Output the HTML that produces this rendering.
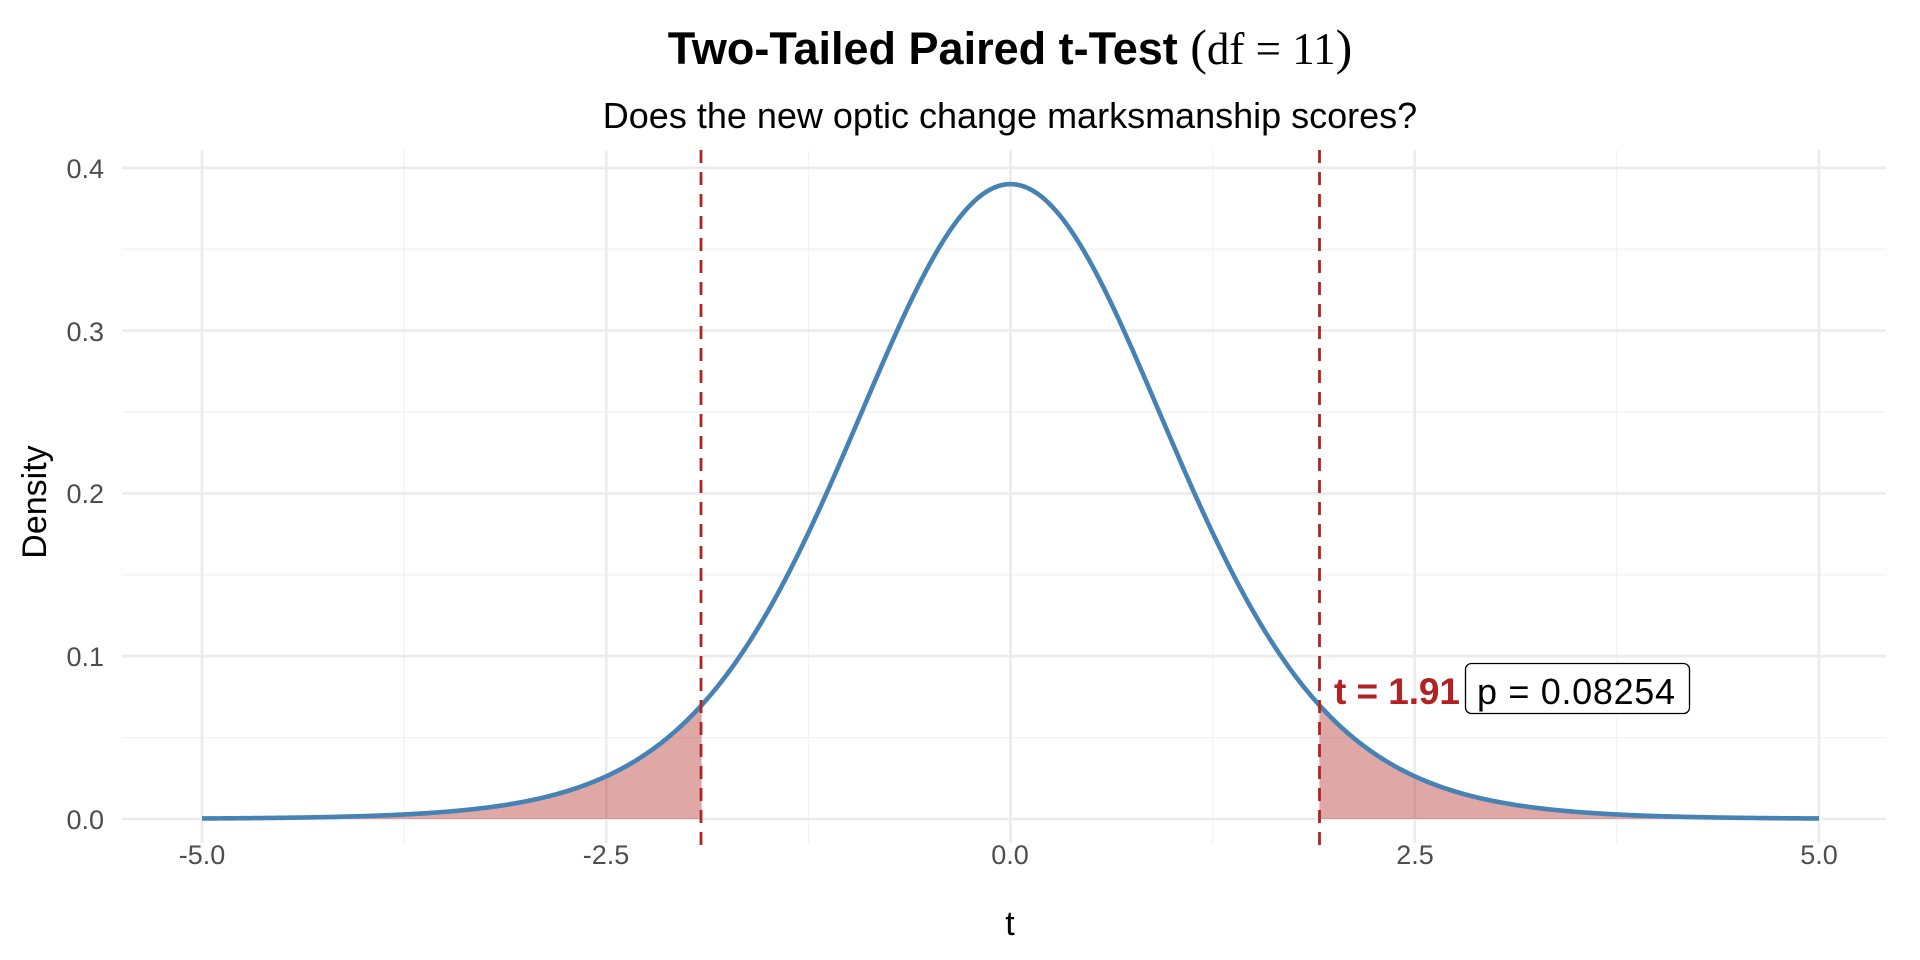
<!DOCTYPE html>
<html><head><meta charset="utf-8"><style>
html,body{margin:0;padding:0;background:#fff;}
svg{display:block;}
text{font-family:"Liberation Sans",sans-serif;}
</style></head><body>
<svg id="s" width="1920" height="960" xmlns="http://www.w3.org/2000/svg">
<rect width="1920" height="960" fill="#fff"/>
<g id="grid"></g>
<path id="fillL" fill="#b22222" fill-opacity="0.4"/>
<path id="fillR" fill="#b22222" fill-opacity="0.4"/>
<path id="curve" fill="none" stroke="#4682b4" stroke-width="4.6" stroke-linejoin="round"/>
<line x1="701" x2="701" y1="150" y2="846" stroke="#b22222" stroke-width="2.8" stroke-dasharray="13,9"/>
<line x1="1319.5" x2="1319.5" y1="150" y2="846" stroke="#b22222" stroke-width="2.8" stroke-dasharray="13,9"/>
<text x="1334" y="704" font-size="37" font-weight="bold" fill="#b22222" textLength="126">t = 1.91</text>
<rect x="1465.5" y="663.5" width="224" height="50" rx="6" fill="#fff" stroke="#000" stroke-width="1.3"/>
<text x="1477" y="704" font-size="36" fill="#000" textLength="198">p = 0.08254</text>
<text x="1010" y="64" font-size="45" text-anchor="middle"><tspan font-weight="bold">Two-Tailed Paired t-Test </tspan><tspan font-family="Liberation Serif,serif" font-size="50">(</tspan><tspan font-family="Liberation Serif,serif">df = 11</tspan><tspan font-family="Liberation Serif,serif" font-size="50">)</tspan></text>
<text x="1010" y="128" font-size="36" text-anchor="middle" fill="#000">Does the new optic change marksmanship scores?</text>
<g font-size="27" fill="#4d4d4d" text-anchor="end">
<text x="104" y="829">0.0</text><text x="104" y="666">0.1</text><text x="104" y="503">0.2</text><text x="104" y="341">0.3</text><text x="104" y="178">0.4</text>
</g>
<g font-size="27" fill="#4d4d4d" text-anchor="middle">
<text x="202" y="864">-5.0</text><text x="606" y="864">-2.5</text><text x="1010" y="864">0.0</text><text x="1415" y="864">2.5</text><text x="1819" y="864">5.0</text>
</g>
<text x="1010" y="935" font-size="34" text-anchor="middle">t</text>
<text transform="translate(46,502) rotate(-90)" font-size="34" text-anchor="middle">Density</text>
</svg>
<script>
var X=function(t){return 1010.5+t*161.7;},Y=function(d){return 819-d*1628;};
var c=0.38998;function f(t){return c*Math.pow(1+t*t/11,-6);}
var g='';
[-3.75,-1.25,1.25,3.75].forEach(function(t){g+='<line x1="'+X(t)+'" x2="'+X(t)+'" y1="150" y2="843" stroke="#f2f2f2" stroke-width="1.3"/>';});
[0.05,0.15,0.25,0.35].forEach(function(d){g+='<line x1="122" x2="1886" y1="'+Y(d)+'" y2="'+Y(d)+'" stroke="#f2f2f2" stroke-width="1.3"/>';});
[-5,-2.5,0,2.5,5].forEach(function(t){g+='<line x1="'+X(t)+'" x2="'+X(t)+'" y1="150" y2="843" stroke="#ebebeb" stroke-width="2.6"/>';});
[0,0.1,0.2,0.3,0.4].forEach(function(d){g+='<line x1="122" x2="1886" y1="'+Y(d)+'" y2="'+Y(d)+'" stroke="#ebebeb" stroke-width="2.6"/>';});
document.getElementById('grid').innerHTML=g;
var p='';for(var i=0;i<=1000;i++){var t=-5+i*0.01;p+=(i?'L':'M')+X(t).toFixed(2)+','+Y(f(t)).toFixed(2);}
document.getElementById('curve').setAttribute('d',p);
function fp(a,b){var s='M'+X(a)+','+Y(0);for(var t=a;t<=b+1e-9;t+=0.01)s+='L'+X(t).toFixed(2)+','+Y(f(t)).toFixed(2);s+='L'+X(b)+','+Y(f(b))+'L'+X(b)+','+Y(0)+'Z';return s;}
document.getElementById('fillL').setAttribute('d',fp(-5,-1.91));
document.getElementById('fillR').setAttribute('d',fp(1.91,5));
</script>
</body></html>
